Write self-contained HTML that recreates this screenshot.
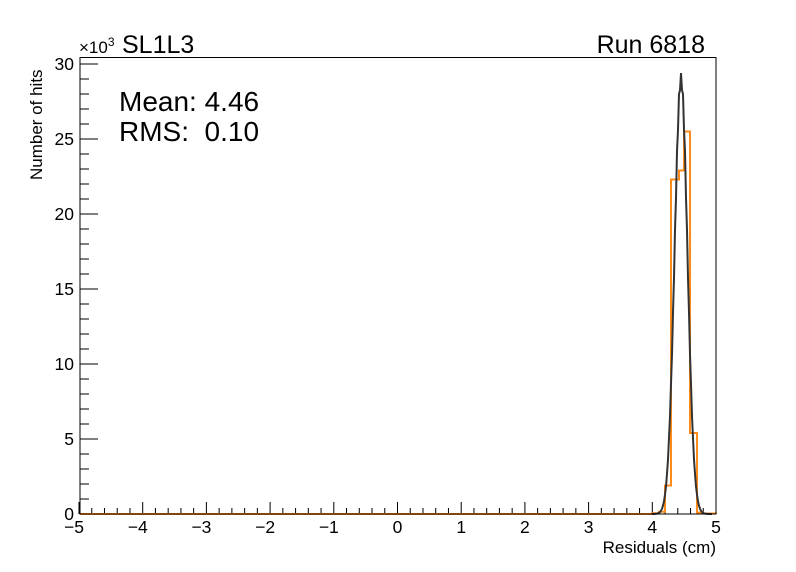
<!DOCTYPE html>
<html><head><meta charset="utf-8"><style>
html,body{margin:0;padding:0;background:#fff;}
svg{display:block;font-family:"Liberation Sans",sans-serif;}
</style></head><body>
<svg id="s" width="796" height="572" viewBox="0 0 796 572" xmlns="http://www.w3.org/2000/svg">
<rect x="0" y="0" width="796" height="572" fill="#fff"/>
<g id="ticks" stroke="#000" stroke-width="1"></g>
<path id="hist" fill="none" stroke="#ff8c1a" stroke-width="2"/>
<path id="fit" fill="none" stroke="#333" stroke-width="2"/>
<rect x="80" y="57.5" width="636" height="456.5" fill="none" stroke="#000" stroke-width="1"/>
<g id="labels" font-size="17.5" fill="#000"></g>
<text x="122" y="53" font-size="25">SL1L3</text>
<text x="79" y="53" font-size="17">×10<tspan font-size="12" dy="-7">3</tspan></text>
<text x="705" y="53" font-size="25" text-anchor="end">Run 6818</text>
<text x="119" y="111" font-size="28">Mean: 4.46</text>
<text x="119" y="141" font-size="28">RMS:&#160; 0.10</text>
<text x="716" y="553" font-size="17" text-anchor="end">Residuals (cm)</text>
<text transform="translate(42,180) rotate(-90)" font-size="17">Number of hits</text>
</svg>
<script>
var X=function(v){return 652.3+(v-4)*63.7;};
var Y=function(k){return 514-k*15;};
var t=document.getElementById('ticks'),L=document.getElementById('labels'),d='';
for(var i=-25;i<=25;i++){var v=i/5,x=X(v),len=(i%5==0)?12:6;d+='M'+x+' 514V'+(514-len);
 if(i%5==0){L.innerHTML+='<text x="'+(v<0?x-5:x)+'" y="533" text-anchor="middle">'+(v<0?'−'+(-v):v)+'</text>';}}
for(var k=0;k<=30;k++){var y=Y(k),len=(k%5==0)?18:9;d+='M80 '+y+'H'+(80+len);
 if(k%5==0){L.innerHTML+='<text x="74" y="'+(y+6)+'" text-anchor="end">'+k+'</text>';}}
t.innerHTML='<path d="'+d+'"/>';
var e=[[652,0.05],[659,0.15],[665,1.9],[671,22.3],[679,22.9],[684,25.5],[690,5.4],[697,0.1],[703,0.03],[716,0]];
var h='M80 514H652';for(var j=0;j<e.length-1;j++){h+='V'+Y(e[j][1])+'H'+e[j+1][0];}h+='V514';
document.getElementById('hist').setAttribute('d',h);
var f='M652 514';for(var x=652;x<=712;x+=1){var g=29*Math.exp(-Math.pow(x-681,2)/(2*6.4*6.4));var n=(x%2?0.4:-0.4)*g/29;f+='L'+x+' '+Y(g+n).toFixed(1);}
document.getElementById('fit').setAttribute('d',f);
</script>
</body></html>
